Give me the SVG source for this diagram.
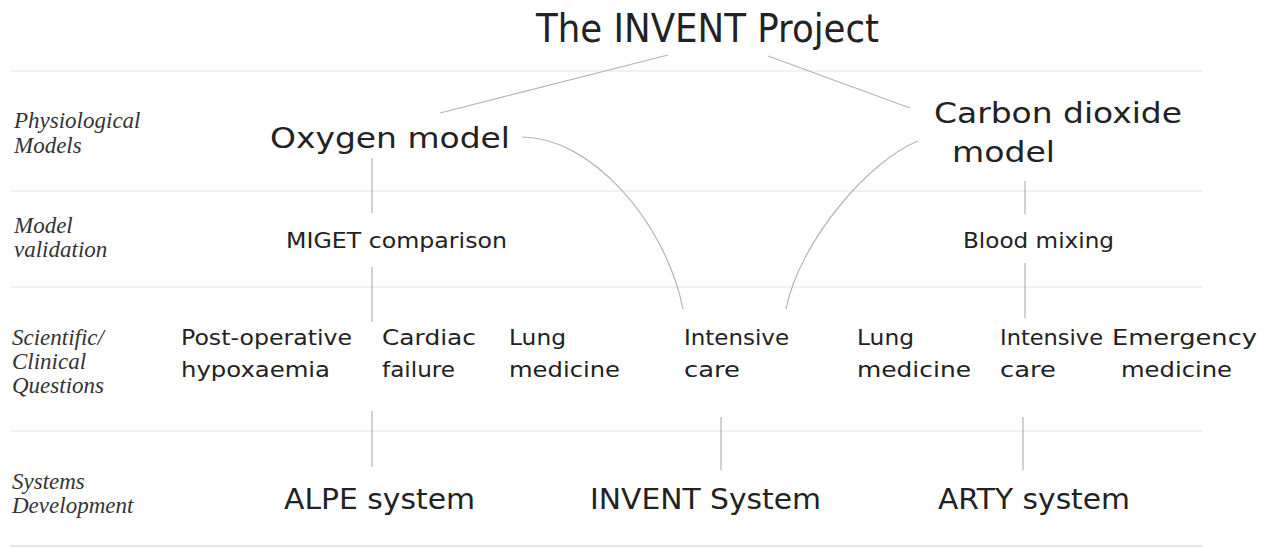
<svg xmlns="http://www.w3.org/2000/svg" width="1270" height="548" viewBox="0 0 1270 548">
<style>
.sep{stroke:#ececec;stroke-width:1.5;fill:none}
.ln{stroke:#b4b4b4;stroke-width:1.2;fill:none}
.lab{font-family:"Liberation Serif",serif;font-style:italic;font-size:23px;fill:#333}
.t{font-family:"DejaVu Sans","Liberation Sans",sans-serif;fill:#222;font-weight:normal}
.big{font-size:39px}
.h{font-size:28px}
.m{font-size:21px}
.q{font-size:21px}
</style>
<rect width="1270" height="548" fill="#ffffff"/>
<g id="separators">
<line class="sep" x1="10" y1="71" x2="1202" y2="71"/>
<line class="sep" x1="10" y1="191" x2="1202" y2="191"/>
<line class="sep" x1="10" y1="287" x2="1202" y2="287"/>
<line class="sep" x1="10" y1="431" x2="1202" y2="431"/>
<line class="sep" x1="10" y1="546" x2="1202" y2="546" style="stroke:#dcdcdc"/>
</g>
<g id="row-labels">
<text class="lab" x="14" y="128">Physiological</text>
<text class="lab" x="14" y="153">Models</text>
<text class="lab" x="14" y="233">Model</text>
<text class="lab" x="14" y="257">validation</text>
<text class="lab" x="12" y="345">Scientific/</text>
<text class="lab" x="12" y="369">Clinical</text>
<text class="lab" x="12" y="393">Questions</text>
<text class="lab" x="12" y="489">Systems</text>
<text class="lab" x="12" y="513">Development</text>
</g>
<g id="connectors">
<line class="ln" x1="440" y1="113" x2="668" y2="55"/>
<line class="ln" x1="768" y1="56" x2="910" y2="108"/>
<path class="ln" d="M522,137 C590,137 665,220 683,309"/>
<path class="ln" d="M918,141 C870,160 800,240 786,309"/>
<line class="ln" x1="372" y1="158" x2="372" y2="213"/>
<line class="ln" x1="372" y1="267" x2="372" y2="322"/>
<line class="ln" x1="372" y1="411" x2="372" y2="467"/>
<line class="ln" x1="1025" y1="181" x2="1025" y2="214"/>
<line class="ln" x1="1025" y1="263" x2="1025" y2="318"/>
<line class="ln" x1="721" y1="417" x2="721" y2="470"/>
<line class="ln" x1="1023" y1="417" x2="1023" y2="470"/>
</g>
<g id="title"><text class="t big" x="536" y="42" textLength="343" lengthAdjust="spacingAndGlyphs">The INVENT Project</text></g>
<g id="oxygen-model"><text class="t h" x="270" y="148" textLength="240" lengthAdjust="spacingAndGlyphs">Oxygen model</text></g>
<g id="co2-model">
<text class="t h" x="934" y="123" textLength="248" lengthAdjust="spacingAndGlyphs">Carbon dioxide</text>
<text class="t h" x="952" y="162" textLength="103" lengthAdjust="spacingAndGlyphs">model</text>
</g>
<g id="miget"><text class="t m" x="286" y="248" textLength="221" lengthAdjust="spacingAndGlyphs">MIGET comparison</text></g>
<g id="blood-mixing"><text class="t m" x="963" y="248" textLength="151" lengthAdjust="spacingAndGlyphs">Blood mixing</text></g>
<g id="q-postop">
<text class="t q" x="181" y="345" textLength="171" lengthAdjust="spacingAndGlyphs">Post-operative</text>
<text class="t q" x="181" y="377" textLength="149" lengthAdjust="spacingAndGlyphs">hypoxaemia</text>
</g>
<g id="q-cardiac">
<text class="t q" x="382" y="345" textLength="94" lengthAdjust="spacingAndGlyphs">Cardiac</text>
<text class="t q" x="382" y="377" textLength="73" lengthAdjust="spacingAndGlyphs">failure</text>
</g>
<g id="q-lung1">
<text class="t q" x="509" y="345" textLength="57" lengthAdjust="spacingAndGlyphs">Lung</text>
<text class="t q" x="509" y="377" textLength="111" lengthAdjust="spacingAndGlyphs">medicine</text>
</g>
<g id="q-intensive1">
<text class="t q" x="684" y="345" textLength="105" lengthAdjust="spacingAndGlyphs">Intensive</text>
<text class="t q" x="684" y="377" textLength="56" lengthAdjust="spacingAndGlyphs">care</text>
</g>
<g id="q-lung2">
<text class="t q" x="857" y="345" textLength="57" lengthAdjust="spacingAndGlyphs">Lung</text>
<text class="t q" x="857" y="377" textLength="114" lengthAdjust="spacingAndGlyphs">medicine</text>
</g>
<g id="q-intensive2">
<text class="t q" x="1000" y="345" textLength="103" lengthAdjust="spacingAndGlyphs">Intensive</text>
<text class="t q" x="1000" y="377" textLength="56" lengthAdjust="spacingAndGlyphs">care</text>
</g>
<g id="q-emergency">
<text class="t q" x="1112" y="345" textLength="145" lengthAdjust="spacingAndGlyphs">Emergency</text>
<text class="t q" x="1121" y="377" textLength="111" lengthAdjust="spacingAndGlyphs">medicine</text>
</g>
<g id="alpe"><text class="t h" x="284" y="509" textLength="191" lengthAdjust="spacingAndGlyphs">ALPE system</text></g>
<g id="invent-system"><text class="t h" x="590" y="509" textLength="231" lengthAdjust="spacingAndGlyphs">INVENT System</text></g>
<g id="arty"><text class="t h" x="938" y="509" textLength="192" lengthAdjust="spacingAndGlyphs">ARTY system</text></g>
</svg>
